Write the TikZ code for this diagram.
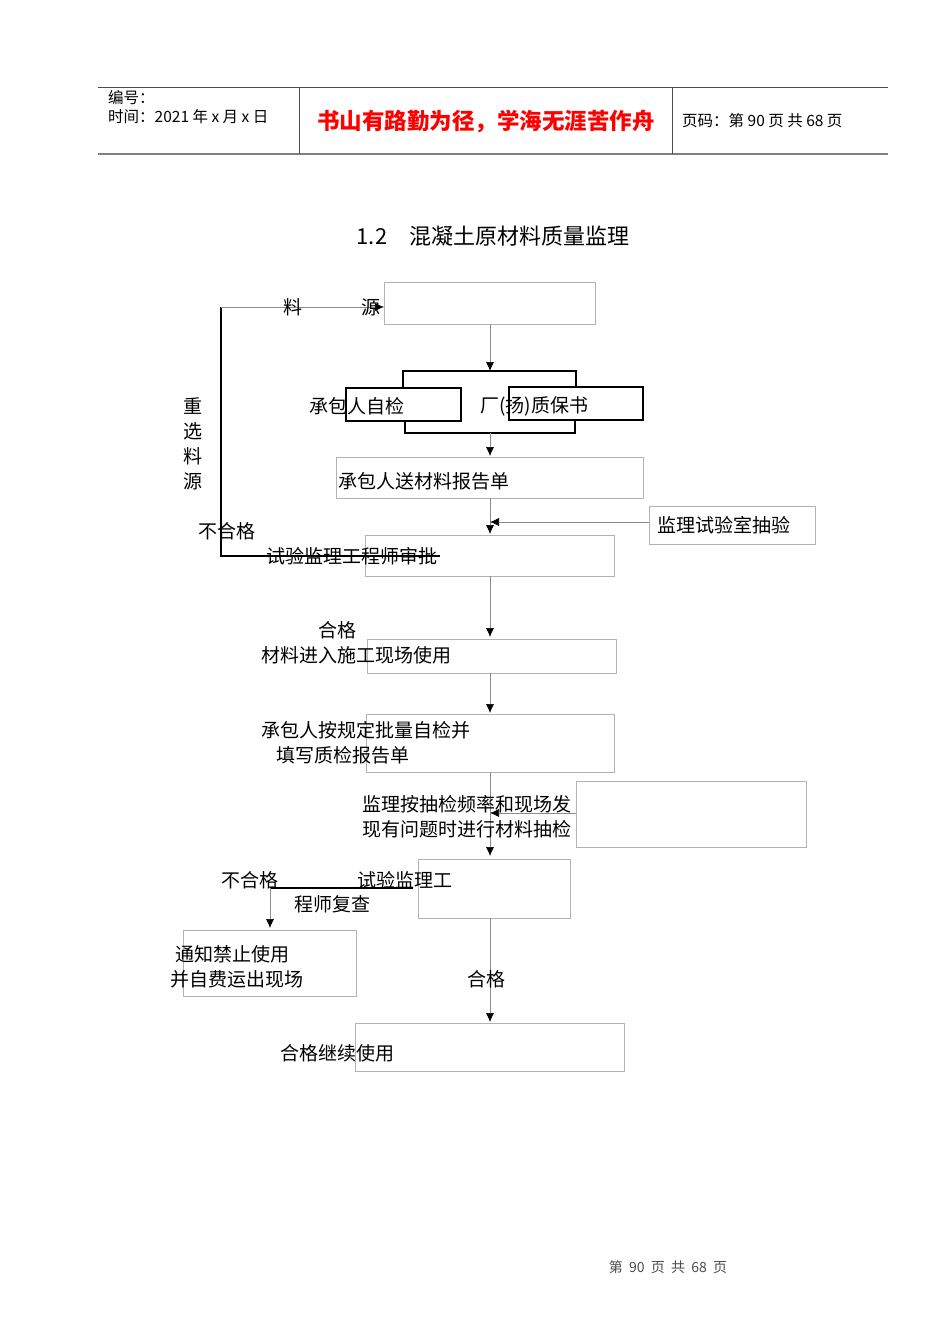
\documentclass[tikz,border=0pt]{standalone}
\usepackage{fontspec}
\usetikzlibrary{arrows.meta}
\setmainfont{Noto Sans CJK SC}
\begin{document}
\begin{tikzpicture}[x=1pt,y=-1pt,
  gbox/.style={draw=black!30,line width=0.8pt},
  bbox/.style={draw=black,line width=1.2pt},
  gl/.style={draw=black!45,line width=0.6pt},
  arr/.style={gl,-{Latex[length=9pt,width=8pt,black]}},
  lbl/.style={font=\fontsize{19}{22}\selectfont,inner sep=0pt}]
\useasboundingbox (0,0) rectangle (950,1344);
% header
\draw[black!70,line width=0.8pt] (98,87) -- (888,87);
\draw[black!50,line width=1.5pt] (98,154) -- (888,154);
\draw[black!70,line width=0.8pt] (299,87) -- (299,154) (672,87) -- (672,154);
\node[lbl,anchor=west] (h1) at (108,98) {\fontsize{15.5}{17}\selectfont 编号：};
\node[lbl,anchor=west] (h2) at (108,117) {\fontsize{15.5}{17}\selectfont 时间：2021 年 x 月 x 日};
\node[lbl,anchor=center,text=red] (h3) at (486,122) {\fontsize{22.5}{25}\selectfont\bfseries 书山有路勤为径，学海无涯苦作舟};
\node[lbl,anchor=west] (h4) at (682,121) {\fontsize{15.5}{17}\selectfont 页码：第 90 页 共 68 页};
% title
\node[lbl] (title) at (493,236) {\fontsize{22}{26}\selectfont 1.2\quad 混凝土原材料质量监理};
% boxes
\draw[gbox] (384,282) rectangle (595,324);
\coordinate (srcL) at (384,307);
\draw[bbox] (346,388) rectangle (461,421);
\draw[bbox] (509,387) rectangle (643,420);
\draw[bbox] (403,388) -- (403,371) -- (576,371) -- (576,387);
\draw[bbox] (405,421) -- (405,433) -- (575,433) -- (575,420);
\draw[gbox] (336,457) rectangle (643,498);
\draw[gbox] (649,506) rectangle (815,544);
\draw[gbox] (365,535) rectangle (614,576);
\draw[gbox] (367,639) rectangle (616,673);
\draw[gbox] (366,714) rectangle (614,772);
\draw[gbox] (576,781) rectangle (806,847);
\draw[gbox] (418,859) rectangle (570,918);
\draw[gbox] (183,930) rectangle (356,996);
\draw[gbox] (355,1023) rectangle (624,1071);
% arrows
\coordinate (a1) at (490,324); \coordinate (a1e) at (490,371);
\draw[arr] (a1) -- (a1e);
\coordinate (a2) at (490,433); \coordinate (a2e) at (490,456);
\draw[arr] (a2) -- (a2e);
\coordinate (a3) at (490,498); \coordinate (a3e) at (490,534);
\draw[arr] (a3) -- (a3e);
\coordinate (b3) at (649,522); \coordinate (b3e) at (490,522);
\draw[arr] (b3) -- (b3e);
\coordinate (a4) at (490,576); \coordinate (a4e) at (490,637);
\draw[arr] (a4) -- (a4e);
\coordinate (a5) at (490,673); \coordinate (a5e) at (490,713);
\draw[arr] (a5) -- (a5e);
\coordinate (a6) at (490,772); \coordinate (a6e) at (490,856);
\draw[arr] (a6) -- (a6e);
\coordinate (b6) at (576,813); \coordinate (b6e) at (490,813);
\draw[arr] (b6) -- (b6e);
\coordinate (a7) at (490,918); \coordinate (a7e) at (490,1022);
\draw[arr] (a7) -- (a7e);
\coordinate (f1) at (413,888); \coordinate (f2) at (270,888); \coordinate (f3) at (270,928);
\draw[black,line width=1.1pt] (f1) -- (f2);
\draw[arr] (f2) -- (f3);
% feedback
\coordinate (r1) at (440,556); \coordinate (r2) at (221,556); \coordinate (r3) at (221,307);
\draw[black,line width=1.2pt] (r1) -- (r2) -- (r3);
\draw[arr] (r3) -- (srcL);
% labels
\node[lbl] (l1) at (293,307) {料};
\node[lbl] (l2) at (371,307) {源};
\node[lbl,align=center] (l3) at (193,444) {重\\[3pt]选\\[3pt]料\\[3pt]源};
\node[lbl] (l4) at (227,531) {不合格};
\node[lbl,anchor=west] (t1) at (309,406) {承包人自检};
\node[lbl,anchor=west] (t2) at (480,406) {厂(扬)质保书};
\node[lbl,anchor=west] (t3) at (338,481) {承包人送材料报告单};
\node[lbl,anchor=west] (t4) at (657,525) {监理试验室抽验};
\node[lbl,anchor=west] (t5) at (266,556) {试验监理工程师审批};
\node[lbl] (t6) at (337,630) {合格};
\node[lbl,anchor=west] (t7) at (261,655) {材料进入施工现场使用};
\node[lbl,anchor=west] (t8) at (261,730) {承包人按规定批量自检并};
\node[lbl,anchor=west] (t9) at (276,755) {填写质检报告单};
\node[lbl,anchor=west] (t10) at (362,804) {监理按抽检频率和现场发};
\node[lbl,anchor=west] (t11) at (362,829) {现有问题时进行材料抽检};
\node[lbl,anchor=west] (t12) at (357,880) {试验监理工};
\node[lbl,anchor=west] (t13) at (294,904) {程师复查};
\node[lbl] (t14) at (250,880) {不合格};
\node[lbl,anchor=west] (t15) at (175,954) {通知禁止使用};
\node[lbl,anchor=west] (t16) at (170,979) {并自费运出现场};
\node[lbl] (t17) at (486,979) {合格};
\node[lbl,anchor=west] (t18) at (280,1053) {合格继续使用};
\node[lbl,text=black!70] (foot) at (668,1267) {\fontsize{14}{16}\selectfont 第 \ 90 \ 页 \ 共 \ 68 \ 页};
\end{tikzpicture}
\end{document}
